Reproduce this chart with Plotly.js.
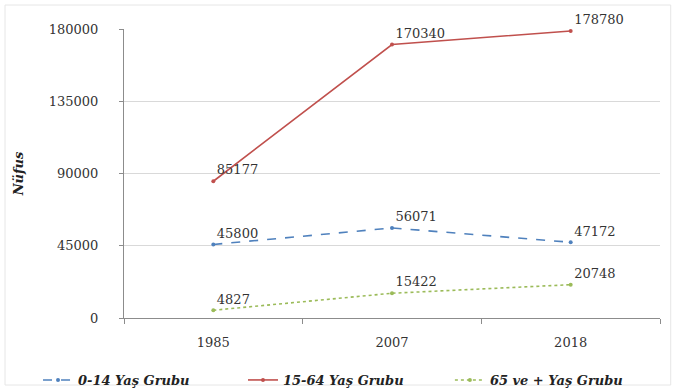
<!DOCTYPE html>
<html>
<head>
<meta charset="utf-8">
<script src="https://cdn.plot.ly/plotly-3.0.1.min.js"></script>
<style>html,body{margin:0;padding:0;background:#fff;}#chart{width:675px;height:390px;}</style>
</head>
<body>
<div id="chart"></div>
<script>
const years = ['1985', '2007', '2018'];
const seriesNames = ['0-14 Yaş Grubu', '15-64 Yaş Grubu', '65 ve + Yaş Grubu'];
const group0to14 = [45800, 56071, 47172];
const group15to64 = [85177, 170340, 178780];
const group65plus = [4827, 15422, 20748];
const yTicks = [0, 45000, 90000, 135000, 180000];

const colors = ['#4F81BD', '#C0504D', '#9BBB59'];
const dashes = ['dash', 'solid', 'dot'];
const legendIds = ['legend', 'legend2', 'legend3'];
const legendX = [-0.1604, 0.222, 0.608];
const data = [group0to14, group15to64, group65plus];
const numFont = {family: 'DejaVu Serif', size: 13, color: '#333'};
const legendFont = {family: 'DejaVu Serif', size: 13, color: '#222', weight: 'bold', style: 'italic'};

const traces = data.map((vals, i) => ({
  type: 'scatter',
  mode: 'lines+markers+text',
  x: years,
  y: vals,
  name: seriesNames[i],
  legend: legendIds[i],
  text: vals.map(String),
  textposition: 'top right',
  textfont: numFont,
  cliponaxis: false,
  line: {color: colors[i], width: 1.6, dash: dashes[i]},
  marker: {color: colors[i], size: 4}
}));

const layout = {
  width: 675, height: 390,
  margin: {l: 124, r: 15, t: 29, b: 72, autoexpand: false},
  paper_bgcolor: '#fff', plot_bgcolor: '#fff',
  showlegend: true,
  xaxis: {
    type: 'category',
    range: [-0.5, 2.5],
    showgrid: false,
    showline: true, linecolor: '#8c8c8c', linewidth: 1,
    ticks: 'outside', tickson: 'boundaries', ticklen: 5, tickcolor: '#8c8c8c',
    tickfont: numFont, tickangle: 0,
    ticklabelstandoff: 12,
    automargin: false
  },
  yaxis: {
    range: [0, 180000],
    tickvals: yTicks,
    ticktext: yTicks.map(String),
    showgrid: true, gridcolor: '#d9d9d9', gridwidth: 1,
    showline: true, linecolor: '#8c8c8c', linewidth: 1,
    ticks: 'outside', ticklen: 4, tickcolor: '#8c8c8c',
    tickfont: numFont,
    ticklabelstandoff: 18,
    zeroline: false,
    automargin: false,
    title: {text: 'Nüfus', font: legendFont, standoff: 22}
  },
  shapes: [{
    type: 'rect', xref: 'paper', yref: 'paper',
    x0: -119/536, x1: 1.02, y0: -67/289, y1: 1 + 24/289,
    line: {color: '#e6e6e6', width: 1}
  }]
};
legendIds.forEach((id, i) => {
  layout[id] = {
    orientation: 'h', x: legendX[i], xanchor: 'left', y: -0.2145, yanchor: 'middle',
    font: legendFont, itemwidth: 30, bgcolor: 'rgba(0,0,0,0)'
  };
});

Plotly.newPlot('chart', traces, layout, {displayModeBar: false, staticPlot: true});
</script>
</body>
</html>
